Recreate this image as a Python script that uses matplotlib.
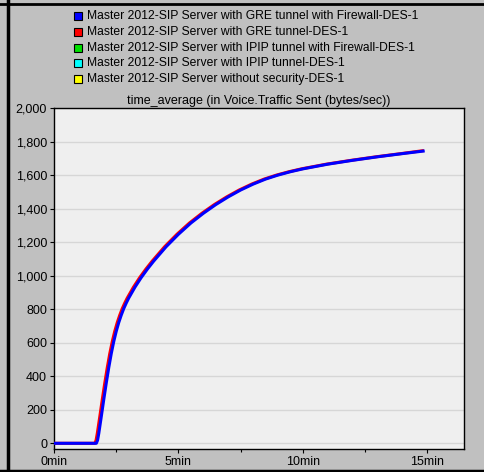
import matplotlib.pyplot as plt
from matplotlib.patches import Rectangle
from matplotlib.lines import Line2D
from matplotlib.ticker import FuncFormatter, MultipleLocator

series_names = [
    "Master 2012-SIP Server with GRE tunnel with Firewall-DES-1",
    "Master 2012-SIP Server with GRE tunnel-DES-1",
    "Master 2012-SIP Server with IPIP tunnel with Firewall-DES-1",
    "Master 2012-SIP Server with IPIP tunnel-DES-1",
    "Master 2012-SIP Server without security-DES-1",
]
series_colors = ["#0000ff", "#ff0000", "#00e000", "#00ffff", "#ffff00"]

# time in minutes, traffic in bytes/sec
gre_fw_time = [0, 1.70, 1.75, 1.80, 1.90, 2.00, 2.10, 2.20, 2.30, 2.40, 2.50,
               2.60, 2.70, 2.80, 2.90, 3.00, 3.25, 3.50, 3.75, 4.00, 4.50,
               5.00, 5.50, 6.00, 6.50, 7.00, 7.50, 8.00, 8.50, 9.00, 9.50,
               10.00, 11.00, 12.00, 13.00, 14.00, 14.83]
gre_fw_vals = [0, 0, 18, 60, 160, 262, 360, 452, 535, 607, 668,
               720, 764, 803, 836, 866, 931, 988, 1039, 1086, 1172,
               1247, 1314, 1372, 1424, 1470, 1511, 1546, 1576, 1600, 1620,
               1637, 1665, 1688, 1709, 1728, 1743]

gre_time = [0, 1.64, 1.69, 1.74, 1.84, 1.94, 2.04, 2.14, 2.24, 2.34, 2.44,
            2.54, 2.64, 2.74, 2.84, 2.94, 3.19, 3.44, 3.69, 3.94, 4.44,
            4.94, 5.44, 5.94, 6.44, 6.94, 7.44, 7.94, 8.44, 8.94, 9.44,
            9.94, 10.94, 11.94, 12.94, 13.94, 14.80]
gre_vals = [0, 0, 18, 60, 160, 262, 360, 452, 535, 607, 668,
            720, 764, 803, 836, 866, 931, 988, 1039, 1086, 1172,
            1247, 1314, 1372, 1424, 1470, 1511, 1546, 1576, 1600, 1620,
            1637, 1665, 1688, 1709, 1728, 1745]

fig = plt.figure(figsize=(4.84, 4.72), dpi=100)
fig.patch.set_facecolor("#c0c0c0")
plt.rcParams["font.family"] = ["Liberation Sans", "DejaVu Sans"]

ax = fig.add_axes([54 / 484, 1 - 449 / 472, 410 / 484, 341 / 472])
ax.set_facecolor("#efefef")
ax.plot(gre_time, gre_vals, color=series_colors[1], lw=2.2, zorder=3,
        solid_joinstyle="round")
ax.plot(gre_fw_time, gre_fw_vals, color=series_colors[0], lw=2.2, zorder=4,
        solid_joinstyle="round")

ax.set_xlim(0, 16.47)
ax.set_ylim(-34, 2000)
ax.yaxis.set_major_locator(MultipleLocator(200))
ax.yaxis.set_major_formatter(FuncFormatter(lambda v, p: f"{int(v):,}"))
ax.xaxis.set_major_locator(MultipleLocator(5))
ax.xaxis.set_minor_locator(MultipleLocator(2.5))
ax.xaxis.set_major_formatter(FuncFormatter(lambda v, p: f"{int(v)}min"))
ax.grid(axis="y", color="#d6d6d6", lw=1)
ax.set_axisbelow(True)
ax.tick_params(axis="both", which="major", length=3, width=0.8, labelsize=9, pad=2)
ax.tick_params(axis="x", which="minor", length=2.5, width=0.8)
for s in ax.spines.values():
    s.set_color("black")
    s.set_linewidth(1)

ax.set_title("time_average (in Voice.Traffic Sent (bytes/sec))", fontsize=9, pad=3)

# legend rows at the top of the panel
row_y = [16, 32, 48, 63, 79]
for name, color, y in zip(series_names, series_colors, row_y):
    fig.patches.append(Rectangle((74 / 484, 1 - (y + 4) / 472), 8 / 484, 8 / 472,
                                 transform=fig.transFigure, facecolor=color,
                                 edgecolor="black", lw=0.8))
    fig.text(87 / 484, 1 - y / 472, name, fontsize=8.7, va="center", ha="left")

# outer frame
fig.lines.append(Line2D([7.5 / 484, 7.5 / 484], [0, 1], transform=fig.transFigure,
                        color="black", lw=2.5))
fig.lines.append(Line2D([0, 1], [1 - 4 / 472, 1 - 4 / 472], transform=fig.transFigure,
                        color="black", lw=2))
fig.lines.append(Line2D([0, 1], [1 / 472, 1 / 472], transform=fig.transFigure,
                        color="black", lw=2.5))

fig.savefig("out.png", dpi=100, facecolor=fig.get_facecolor())
